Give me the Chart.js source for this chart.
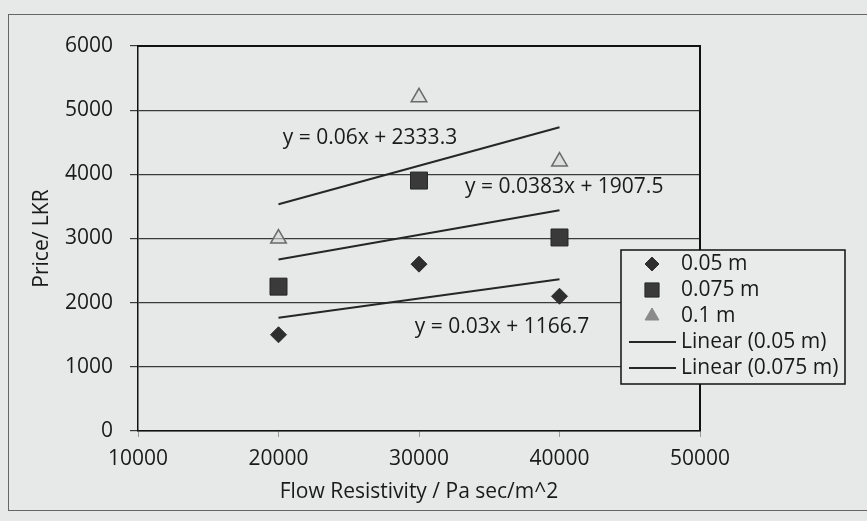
<!DOCTYPE html>
<html>
<head>
<meta charset="utf-8">
<script src="https://cdn.jsdelivr.net/npm/chart.js@4/dist/chart.umd.min.js"></script>
<style>
  html, body { margin: 0; padding: 0; background: #e7e8e8; overflow: hidden; }
  #wrap { position: relative; width: 867px; height: 521px; }
  #frame { position: absolute; left: 8px; top: 14px; width: 900px; height: 495px; border: 1px solid #666; }
  canvas { position: absolute; left: 0; top: 0; }
</style>
</head>
<body>
<div id="wrap">
  <div id="frame"></div>
  <canvas id="c" width="867" height="521"></canvas>
</div>
<script>
// ---- data ----
const xValues = [20000, 30000, 40000];
const price005 = [1500, 2600, 2100];
const price0075 = [2250, 3903, 3016];
const price01 = [3000, 5200, 4200];
const trendX = [20000, 40000];
const trend005 = [1766.7, 2366.7];
const trend0075 = [2673.5, 3439.5];
const trend01 = [3533.3, 4733.3];
const seriesLabels = ['0.05 m', '0.075 m', '0.1 m'];
const trendLabels = ['Linear (0.05 m)', 'Linear (0.075 m)', 'Linear (0.1 m)'];
const equationTexts = ['y = 0.03x + 1166.7', 'y = 0.0383x + 1907.5', 'y = 0.06x + 2333.3'];
const xTickValues = [10000, 20000, 30000, 40000, 50000];
const yTickValues = [0, 1000, 2000, 3000, 4000, 5000, 6000];

const FONT = "'Open Sans', 'Liberation Sans', sans-serif";
const INK = '#1a1a1a';

const toPts = (xs, ys) => xs.map((x, i) => ({ x: x, y: ys[i] }));

const datasets = [
  { label: seriesLabels[0], data: toPts(xValues, price005), pointStyle: 'rectRot', pointRadius: 8,
    backgroundColor: '#2e2e2e', borderColor: '#2e2e2e', borderWidth: 1, showLine: false, order: 0 },
  { label: seriesLabels[1], data: toPts(xValues, price0075), pointStyle: 'rect', pointRadius: 12,
    backgroundColor: '#3a3a3a', borderColor: '#262626', borderWidth: 1, showLine: false, order: 0 },
  { label: seriesLabels[2], data: toPts(xValues, price01), pointStyle: 'triangle', pointRadius: 9,
    backgroundColor: 'rgba(215,215,215,0.6)', borderColor: '#6a6a6a', borderWidth: 1.5, showLine: false, order: 0 },
  { label: trendLabels[0], data: toPts(trendX, trend005), showLine: true, pointRadius: 0,
    borderColor: '#262626', borderWidth: 2, order: 1, inLegend: true },
  { label: trendLabels[1], data: toPts(trendX, trend0075), showLine: true, pointRadius: 0,
    borderColor: '#262626', borderWidth: 2, order: 1, inLegend: true },
  { label: trendLabels[2], data: toPts(trendX, trend01), showLine: true, pointRadius: 0,
    borderColor: '#262626', borderWidth: 2, order: 1, inLegend: false }
];

// anchor points (data units) for equation labels: [x, y]
const equationAnchors = [[29700, 1620], [33270, 3810], [20300, 4560]];

const framePlugin = {
  id: 'framePlugin',
  afterDatasetsDraw(chart) {
    const { ctx, chartArea: a, scales } = chart;
    ctx.save();
    ctx.strokeStyle = '#111';
    ctx.lineWidth = 2;
    ctx.beginPath();
    ctx.moveTo(a.left, a.top);
    ctx.lineTo(a.right, a.top);
    ctx.lineTo(a.right, a.bottom);
    ctx.stroke();
    ctx.fillStyle = INK;
    ctx.font = '21px ' + FONT;
    ctx.textAlign = 'left';
    ctx.textBaseline = 'middle';
    equationTexts.forEach((t, i) => {
      const px = scales.x.getPixelForValue(equationAnchors[i][0]);
      const py = scales.y.getPixelForValue(equationAnchors[i][1]);
      ctx.fillText(t, px, py);
    });
    ctx.restore();
  },
  afterDraw(chart) {
    const { ctx } = chart;
    const items = chart.data.datasets.filter(d => d.inLegend !== false);
    const box = { left: 621, top: 250, width: 224, height: 134 };
    const rowH = 26;
    ctx.save();
    ctx.fillStyle = '#e9eaea';
    ctx.fillRect(box.left, box.top, box.width, box.height);
    ctx.strokeStyle = '#111';
    ctx.lineWidth = 1.5;
    ctx.strokeRect(box.left, box.top, box.width, box.height);
    ctx.font = '21px ' + FONT;
    ctx.textBaseline = 'middle';
    ctx.textAlign = 'left';
    items.forEach((d, i) => {
      const cy = box.top + 14 + i * rowH;
      if (d.showLine) {
        ctx.strokeStyle = d.borderColor;
        ctx.lineWidth = 2;
        ctx.beginPath();
        ctx.moveTo(box.left + 8, cy);
        ctx.lineTo(box.left + 55, cy);
        ctx.stroke();
      } else {
        const style = {
          pointStyle: d.pointStyle,
          radius: d.pointStyle === 'rect' ? 10 : d.pointStyle === 'triangle' ? 8 : 7,
          rotation: 0,
          borderWidth: 1
        };
        ctx.fillStyle = d.pointStyle === 'triangle' ? '#8a8a8a' : d.backgroundColor;
        ctx.strokeStyle = d.pointStyle === 'triangle' ? '#8a8a8a' : d.borderColor;
        ctx.lineWidth = 1;
        Chart.helpers.drawPoint(ctx, style, box.left + 31, cy);
      }
      ctx.fillStyle = INK;
      ctx.fillText(d.label, box.left + 60, cy);
    });
    ctx.restore();
  }
};

new Chart(document.getElementById('c'), {
  type: 'scatter',
  data: { datasets: datasets },
  options: {
    responsive: false,
    animation: false,
    devicePixelRatio: 1,
    layout: { padding: { top: 46, right: 167, left: 0, bottom: 0 } },
    plugins: { legend: { display: false }, tooltip: { enabled: false } },
    scales: {
      x: {
        type: 'linear',
        min: xTickValues[0],
        max: xTickValues[xTickValues.length - 1],
        afterBuildTicks: s => { s.ticks = xTickValues.map(v => ({ value: v })); },
        afterFit: s => { s.height = 90; },
        ticks: { color: INK, font: { family: FONT, size: 21 }, padding: 9, maxRotation: 0,
                 callback: v => String(v) },
        grid: { display: true, drawOnChartArea: false, drawTicks: true, tickLength: 6, color: '#9a9a9a' },
        border: { display: true, color: '#111', width: 1.5 },
        title: { display: true, text: 'Flow Resistivity / Pa sec/m^2', color: INK,
                 font: { family: FONT, size: 21 }, padding: { top: 0, bottom: 16 } }
      },
      y: {
        type: 'linear',
        min: yTickValues[0],
        max: yTickValues[yTickValues.length - 1],
        afterBuildTicks: s => { s.ticks = yTickValues.map(v => ({ value: v })); },
        afterFit: s => { s.width = 138; },
        ticks: { color: INK, font: { family: FONT, size: 21 }, padding: 17,
                 callback: v => String(v) },
        grid: { display: true, color: '#3a3a3a', lineWidth: 1.2, drawTicks: true, tickLength: 8 },
        border: { display: true, color: '#111', width: 1.5 },
        title: { display: true, text: 'Price/ LKR', color: INK,
                 font: { family: FONT, size: 21 }, padding: { top: 29, bottom: 0 } }
      }
    }
  },
  plugins: [framePlugin]
});
</script>
</body>
</html>
